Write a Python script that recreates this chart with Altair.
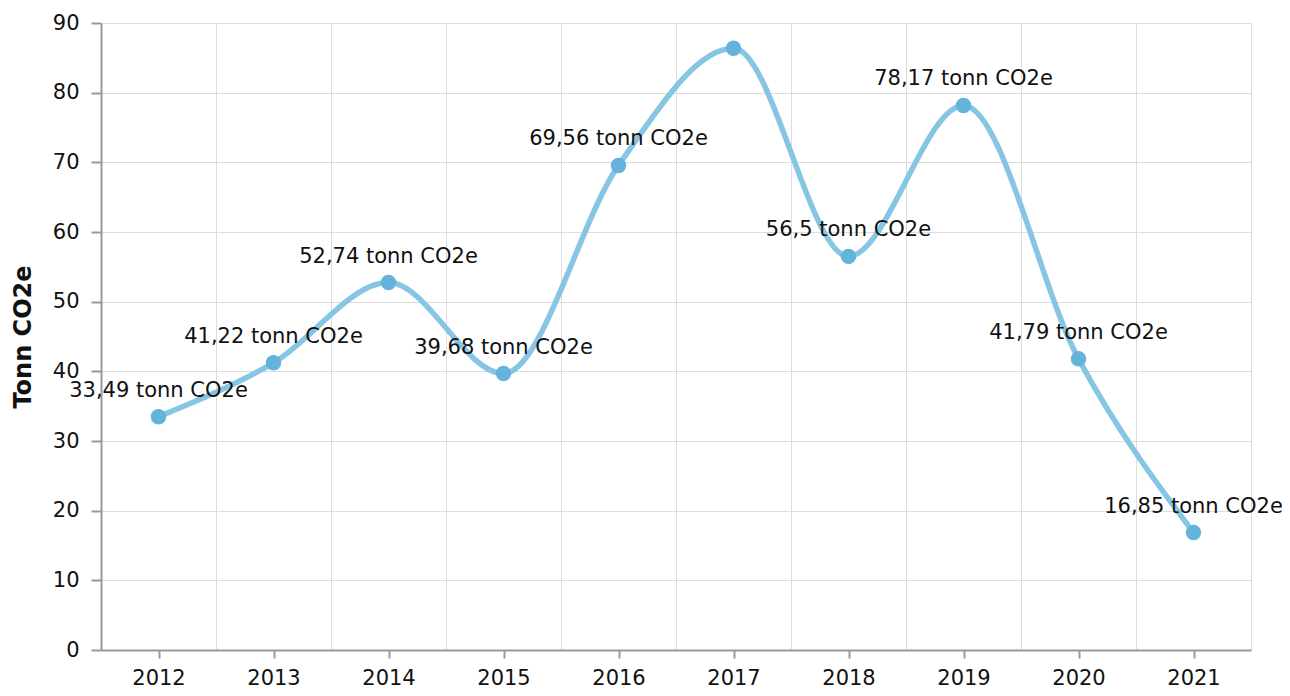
import altair as alt
import pandas as pd

years = [2012, 2013, 2014, 2015, 2016, 2017, 2018, 2019, 2020, 2021]
values = [33.49, 41.22, 52.74, 39.68, 69.56, 86.37, 56.5, 78.17, 41.79, 16.85]
labels = ["33,49 tonn CO2e", "41,22 tonn CO2e", "52,74 tonn CO2e", "39,68 tonn CO2e",
          "69,56 tonn CO2e", "", "56,5 tonn CO2e", "78,17 tonn CO2e",
          "41,79 tonn CO2e", "16,85 tonn CO2e"]
x_ticks = [2011.5, 2012, 2012.5, 2013, 2013.5, 2014, 2014.5, 2015, 2015.5, 2016, 2016.5,
           2017, 2017.5, 2018, 2018.5, 2019, 2019.5, 2020, 2020.5, 2021, 2021.5]
y_ticks = [0, 10, 20, 30, 40, 50, 60, 70, 80, 90]

df = pd.DataFrame({"year": years, "value": values, "label": labels})

FONT = "DejaVu Sans"
xscale = alt.Scale(domain=[2011.5, 2021.5], nice=False, zero=False)
yscale = alt.Scale(domain=[0, 90], nice=False)

x_enc = alt.X(
    "year:Q", scale=xscale,
    axis=alt.Axis(
        values=x_ticks, title=None, labelOverlap=False, labelFlush=False,
        labelExpr="datum.value % 1 == 0 ? toString(datum.value) : ''",
        grid=True,
        gridOpacity={"condition": {"test": "datum.value % 1 == 0", "value": 0}, "value": 1},
        tickOpacity={"condition": {"test": "datum.value % 1 == 0", "value": 1}, "value": 0},
        tickSize=8, labelPadding=9,
    ),
)
y_enc = alt.Y(
    "value:Q", scale=yscale,
    axis=alt.Axis(values=y_ticks, title="Tonn CO2e", tickSize=10, labelPadding=12,
                  titleFontWeight="bold", titleFontSize=24, titlePadding=17, domain=True),
)

line = alt.Chart(df).mark_line(interpolate="monotone", strokeWidth=5.5, color="#86C5E4").encode(
    x=x_enc, y=y_enc)
pts = alt.Chart(df).mark_circle(size=240, opacity=1, color="#63B3DB").encode(
    x="year:Q", y="value:Q")
txt = alt.Chart(df).mark_text(dy=-26, fontSize=21, font=FONT, color="#111111").encode(
    x="year:Q", y="value:Q", text="label:N")

chart = alt.layer(line, pts, txt).properties(
    width=1150, height=627,
    autosize=alt.AutoSizeParams(type="none"),
    padding={"left": 93, "top": 15, "right": 31, "bottom": 38},
).configure_view(
    stroke="#dddddd", strokeWidth=1
).configure_axis(
    labelFont=FONT, titleFont=FONT, labelFontSize=21, titleFontSize=21,
    labelColor="#111111", titleColor="#111111",
    domainColor="#999999", domainWidth=2, tickColor="#999999", tickWidth=2,
    gridColor="#dddddd", gridWidth=1,
)

chart.save("out.html", embed_options={"renderer": "svg", "actions": False})
